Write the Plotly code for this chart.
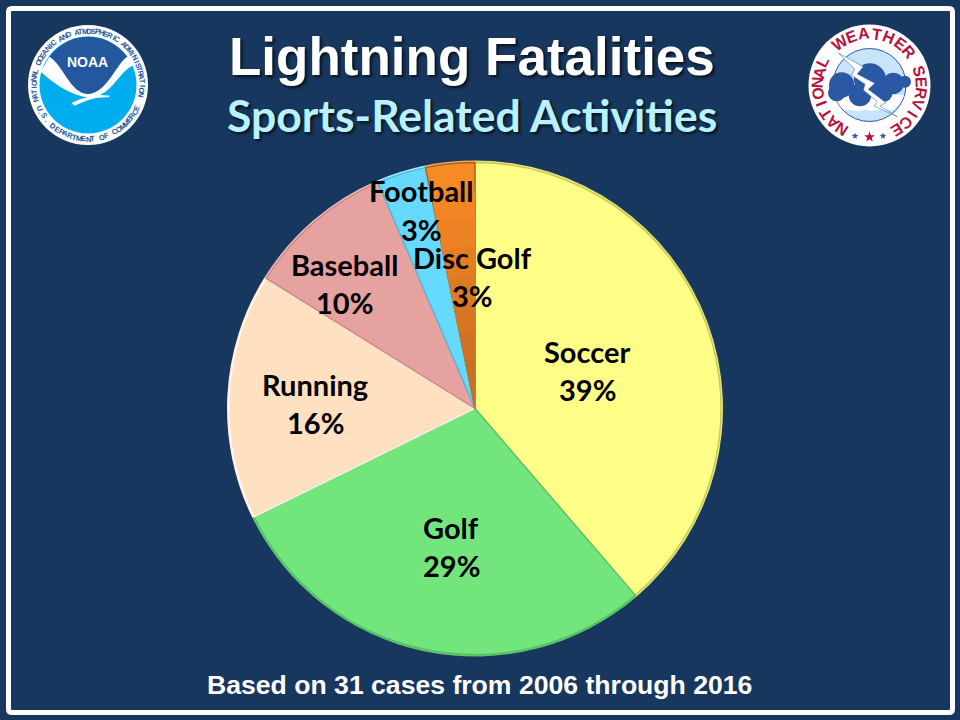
import math
import re
import plotly.graph_objects as go

W, H = 960, 720

# 31 cases in total, so the slices are counts
sports = ['Soccer', 'Golf', 'Running', 'Baseball', 'Football', 'Disc Golf']
cases = [12, 9, 5, 3, 1, 1]
percents = [39, 29, 16, 10, 3, 3]

slice_colors = ['#FFFF88', '#72E67C', '#FFE0C0', '#E6A1A1', '#66D9FF', '#F78A24']
rim_colors = ['#E6E675', '#5CC868', '#FFEEDC', '#F0BDBD', '#A6EAFF', '#FFB066']
edge_colors = ['#C6C45E', '#58BE66', '#FFF6EA', '#C98787', '#4DB8DC', '#A85E1C']
disc_golf_bands = ['#F78A24', '#F28623', '#EC8223', '#E57E22', '#DE7A22', '#D77622', '#D07222', '#C96E22']

label_pos = {
    'Soccer': (587, 351, 389),
    'Golf': (451, 527, 565),
    'Running': (315, 384, 422),
    'Baseball': (344, 264, 302),
    'Football': (421, 191, 229),
    'Disc Golf': (472, 257, 295),
}

NAVY = '#17375E'


def fx(x):
    return x / W


def fy(y):
    return 1 - y / H


def path(d, ox=0, oy=0, s=1.0):
    # path written in picture pixels, converted to paper coordinates
    nums = iter(re.findall(r'-?\d+\.?\d*|[A-Za-z]', d))
    out = []
    for tok in nums:
        if tok.isalpha():
            out.append(tok)
        else:
            out.append(f'{fx(ox + float(tok) * s):.5f},{fy(oy + float(next(nums)) * s):.5f}')
    return ' '.join(out)


def circle(cx, cy, r, fill, line=None, lw=0):
    return dict(type='circle', xref='paper', yref='paper', x0=fx(cx - r), x1=fx(cx + r),
                y0=fy(cy + r), y1=fy(cy - r), fillcolor=fill, line=dict(color=line or fill, width=lw))


def poly(d, fill, ox=0, oy=0, s=1.0, line=None, lw=0):
    return dict(type='path', xref='paper', yref='paper', path=path(d, ox, oy, s), fillcolor=fill,
                line=dict(color=line or fill, width=lw))


def text(x, y, t, size, color, family='Liberation Sans', bold=True, angle=0, shadow=None):
    font = dict(size=size, color=color, family=family, weight='bold' if bold else 'normal')
    if shadow:
        font['shadow'] = shadow
    return dict(x=fx(x), y=fy(y), xref='paper', yref='paper', text=t, showarrow=False,
                xanchor='center', yanchor='middle', textangle=angle, font=font)


def ring_text(cx, cy, r, word, a0, a1, size, color, inward=True):
    # one rotated annotation per letter, running from angle a0 to a1 (clock degrees)
    anns = []
    n = len(word)
    for i, ch in enumerate(word):
        if ch == ' ':
            continue
        a = a0 + (a1 - a0) * i / (n - 1)
        rad = math.radians(a)
        px = cx + r * math.sin(rad)
        py = cy - r * math.cos(rad)
        anns.append(text(px, py, ch, size, color, angle=a if inward else a - 180))
    return anns


def star(cx, cy, r, fill):
    pts = []
    for i in range(10):
        rr = r if i % 2 == 0 else r * 0.42
        a = math.radians(36 * i)
        pts.append(f'{cx + rr * math.sin(a):.2f} {cy - rr * math.cos(a):.2f}')
    return poly('M ' + ' L '.join(pts) + ' Z', fill)


fig = go.Figure()

pie_dom = dict(x=[fx(227), fx(723)], y=[fy(657), fy(160)])


def inset(n):
    return dict(x=[fx(227 + n), fx(723 - n)], y=[fy(657 - n), fy(160 + n)])


base = dict(labels=sports, values=cases, sort=False, direction='clockwise', rotation=0,
            textinfo='none', hoverinfo='skip', showlegend=False)

fig.add_trace(go.Pie(domain=pie_dom, marker=dict(colors=rim_colors, line=dict(width=0)), **base))
fig.add_trace(go.Pie(domain=inset(2), marker=dict(colors=slice_colors, line=dict(color=edge_colors, width=1.3)), **base))

# the disc golf slice darkens towards the centre
clear = ['rgba(0,0,0,0)'] * 5
for i, col in enumerate(disc_golf_bands[1:], start=1):
    fig.add_trace(go.Pie(domain=inset(2 + i * 28), marker=dict(colors=clear + [col], line=dict(width=0)), **base))

# white frame with slightly rounded corners
frame = ('M 12 8.5 L 949 8.5 Q 952.5 8.5 952.5 12 L 952.5 709 Q 952.5 712.5 949 712.5 '
         'L 12 712.5 Q 8.5 712.5 8.5 709 L 8.5 12 Q 8.5 8.5 12 8.5 Z')
shapes = [
    dict(type='path', xref='paper', yref='paper', path=path(frame),
         line=dict(color='white', width=5), fillcolor=NAVY, layer='below'),
]

# NOAA logo
shapes += [
    circle(88, 85, 60, 'white'),
    circle(88, 85, 48.5, '#00AEEF'),
    poly('M 148 170 C 180 130 220 110 264 110 C 310 110 350 130 382 170 C 350 190 320 280 264 282 '
         'C 210 280 190 195 148 170 Z', '#24589E', s=1 / 3),
    poly('M 148 170 C 190 195 210 280 264 282 C 320 280 350 190 382 170 L 405 195 C 365 205 345 265 300 285 '
         'L 330 287 L 325 292 C 290 290 260 300 225 317 L 215 310 C 230 300 250 295 262 292 '
         'C 215 285 165 255 122 215 Z', 'white', s=1 / 3),
]

ox, oy, s3 = 780, 20, 1 / 3
NWS_BLUE = '#2A58A5'
cloud_lobes = [(185, 195, 38), (270, 178, 48), (340, 190, 32), (375, 185, 18), (240, 225, 34),
               (170, 218, 26), (310, 218, 28)]
shapes += [
    circle(869.5, 85.5, 61, 'white'),
    circle(869.5, 85, 36.5, '#C8E4FA', NWS_BLUE, 1),
    poly('M 166 225 L 372 225 C 365 250 350 262 335 272 C 310 262 280 280 255 268 C 235 278 215 268 195 272 '
         'C 180 262 170 245 166 225 Z', 'white', ox, oy, s3),
]
for zx, zy, zr in cloud_lobes:
    shapes.append(circle(ox + zx * s3, oy + zy * s3, zr * s3, NWS_BLUE))
shapes += [
    poly('M 176 100 L 250 140 L 232 162 L 285 190 L 265 208 L 318 248 L 300 258 L 352 290 L 282 258 '
         'L 292 245 L 250 210 L 255 193 L 214 165 L 225 148 Z', 'white', ox, oy, s3, NWS_BLUE, 0.5),
    star(869.5, 137, 5.5, '#B5123E'),
    star(855, 136, 3.5, NWS_BLUE),
    star(883, 136, 3.5, NWS_BLUE),
]

annotations = [
    text(472, 57, 'Lightning Fatalities', 53, 'white', shadow='2px 2px 3px rgba(0,0,0,0.7)'),
    text(472, 115, 'Sports-Related Activities', 44.5, '#B9F2FF', family='Lato', shadow='2px 2px 3px rgba(0,0,0,0.7)'),
    text(479, 685, 'Based on 31 cases from 2006 through 2016', 26.6, 'white'),
    text(87.5, 62, 'NOAA', 14, 'white'),
]

for name, pct in zip(sports, percents):
    x, y1, y2 = label_pos[name]
    annotations.append(text(x, y1, name, 29, 'black', family='Lato'))
    annotations.append(text(x, y2, f'{pct}%', 29, 'black', family='Lato'))

annotations += ring_text(88, 85, 54, 'NATIONAL OCEANIC AND ATMOSPHERIC ADMINISTRATION', -106, 100, 7.5, '#24589E')
annotations += ring_text(88, 85, 54, 'U.S. DEPARTMENT OF COMMERCE', 245, 115, 7.5, '#24589E', inward=False)
annotations += ring_text(869.5, 85.5, 52, 'NATIONAL', -147, -63, 16, '#B5123E')
annotations += ring_text(869.5, 85.5, 52, 'WEATHER', -34, 50, 16, '#B5123E')
annotations += ring_text(869.5, 85.5, 52, 'SERVICE', 74, 148, 16, '#B5123E')

fig.update_layout(
    width=W, height=H, margin=dict(l=0, r=0, t=0, b=0, pad=0),
    paper_bgcolor=NAVY, plot_bgcolor=NAVY,
    shapes=shapes, annotations=annotations,
)

# browser default body margin would push the page 8px off
fig.write_html('out.html', config=dict(displayModeBar=False), post_script="document.body.style.margin='0';")
